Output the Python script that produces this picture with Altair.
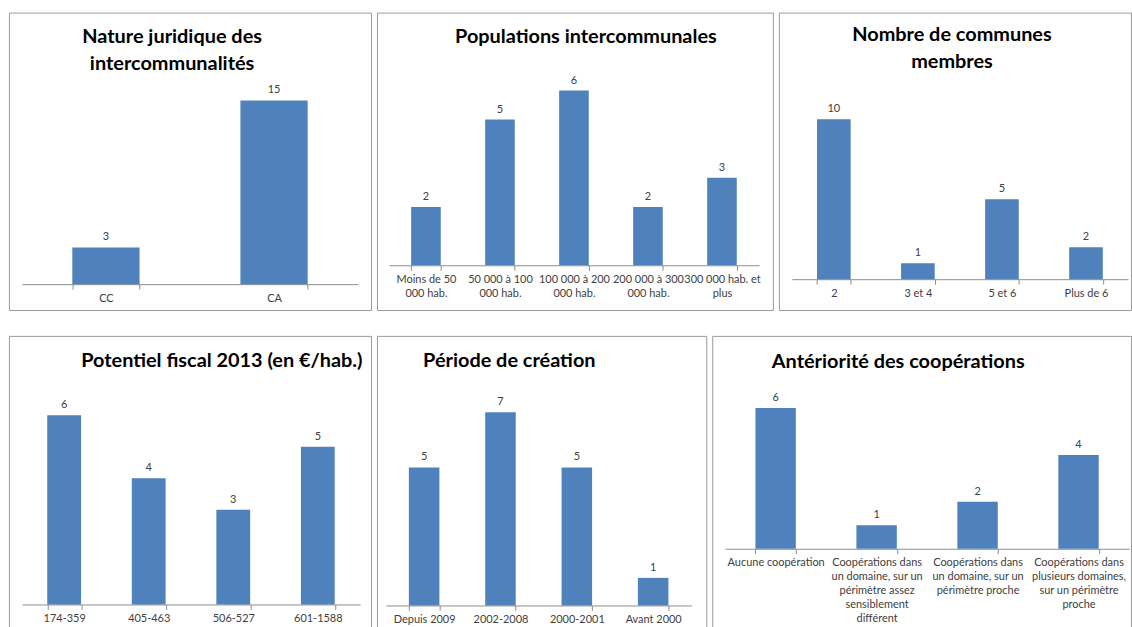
import altair as alt
import pandas as pd

BLUE = "#4F81BD"
FONT = "Lato"
TXT = "#404040"

# ---- data -------------------------------------------------------------
nature_title = "Nature juridique des\nintercommunalités"
nature_cats = ["CC", "CA"]
nature_vals = [3, 15]

pop_title = "Populations intercommunales"
pop_cats = ["Moins de 50|000 hab.", "50 000 à 100|000 hab.", "100 000 à 200|000 hab.",
            "200 000 à 300|000 hab.", "300 000 hab. et|plus"]
pop_vals = [2, 5, 6, 2, 3]

communes_title = "Nombre de communes\nmembres"
communes_cats = ["2", "3 et 4", "5 et 6", "Plus de 6"]
communes_vals = [10, 1, 5, 2]

fiscal_title = "Potentiel fiscal 2013 (en €/hab.)"
fiscal_cats = ["174-359", "405-463", "506-527", "601-1588"]
fiscal_vals = [6, 4, 3, 5]

periode_title = "Période de création"
periode_cats = ["Depuis 2009", "2002-2008", "2000-2001", "Avant 2000"]
periode_vals = [5, 7, 5, 1]

coop_title = "Antériorité des coopérations"
coop_cats = ["Aucune coopération",
             "Coopérations dans|un domaine, sur un|périmètre assez|sensiblement|différent",
             "Coopérations dans|un domaine, sur un|périmètre proche",
             "Coopérations dans|plusieurs domaines,|sur un périmètre|proche"]
coop_vals = [6, 1, 2, 4]


def panel(cats, vals, title, w, h, xr, base, top, ymax, tx, ty):
    df = pd.DataFrame({"cat": cats, "val": vals})
    x = alt.X("cat:N", sort=cats,
              scale=alt.Scale(range=xr, paddingInner=0.6, paddingOuter=0.3),
              axis=alt.Axis(title=None, labelExpr="split(datum.label, '|')",
                            offset=base - h, tickBand="extent", labelAngle=0,
                            labelAlign="center", labelBaseline="top"))
    y = alt.Y("val:Q", scale=alt.Scale(domain=[0, ymax], range=[base, top]), axis=None)
    bars = alt.Chart(df).mark_bar(color=BLUE).encode(x=x, y=y)
    labels = alt.Chart(df).mark_text(dy=-7, baseline="alphabetic", fontSize=11,
                                     color=TXT, font=FONT).encode(x=x, y=y, text="val:Q")
    ttl = alt.Chart(alt.Data(values=[{"t": title}])).mark_text(
        lineBreak="\n", fontSize=20, fontWeight="bold", font=FONT, color="black",
        align="center", baseline="middle", lineHeight=27
    ).encode(x=alt.value(tx), y=alt.value(ty), text="t:N")
    return alt.layer(bars, labels, ttl).properties(width=w, height=h)


p1 = panel(nature_cats, nature_vals, nature_title, 364, 299, [13, 351], 273, 76, 16, 164, 25)
p2 = panel(pop_cats, pop_vals, pop_title, 398, 299, [12, 384], 254, 49, 7, 210, 25)
p3 = panel(communes_cats, communes_vals, communes_title, 354, 299, [13, 351], 268, 75, 12, 174, 23)
p4 = panel(fiscal_cats, fiscal_vals, fiscal_title, 364, 294, [13, 353], 270, 48, 7, 214, 25)
p5 = panel(periode_cats, periode_vals, periode_title, 331, 294, [9, 316], 271, 49, 8, 133, 25)
p6 = panel(coop_cats, coop_vals, coop_title, 421, 294, [13, 419], 214, 49, 7, 187, 26)

chart = alt.vconcat(
    alt.hconcat(p1, p2, p3, spacing=4),
    alt.hconcat(p4, p5, p6, spacing=4),
    spacing=24,
).properties(
    padding={"left": 8, "top": 10, "right": 0, "bottom": 0},
    background="white",
).configure_view(
    stroke="#9a9a9a", strokeWidth=1
).configure_axis(
    domainColor="#8c8c8c", tickColor="#8c8c8c", labelColor=TXT, labelFont=FONT,
    labelFontSize=11, tickSize=5, labelPadding=3, labelLineHeight=14, labelLimit=300,
    grid=False
)

chart.save("out.html", embed_options={"renderer": "svg", "actions": False})
